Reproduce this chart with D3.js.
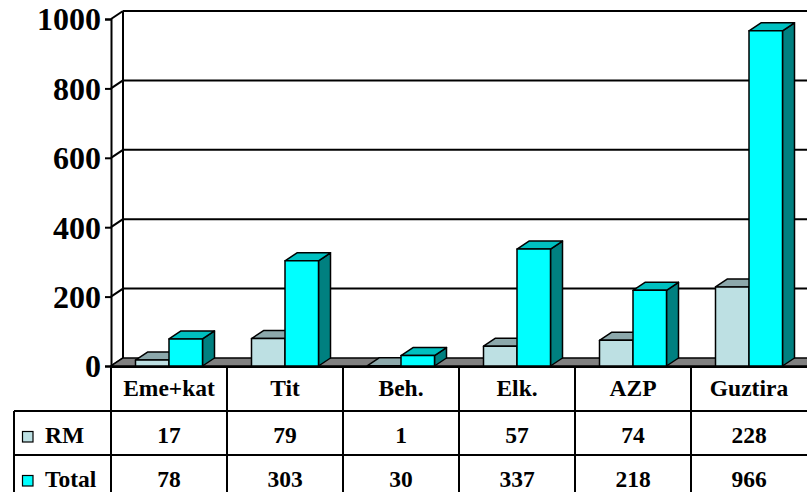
<!DOCTYPE html>
<html>
<head>
<meta charset="utf-8">
<script src="https://cdn.jsdelivr.net/npm/d3@7"></script>
<style>
  body { margin: 0; background: #fff; }
  svg { display: block; }
  svg text { font-family: "Liberation Serif", "Times New Roman", serif; font-weight: bold; }
</style>
</head>
<body>
<svg id="chart" width="807" height="492"></svg>
<script>
// data
const categories = ["Eme+kat", "Tit", "Beh.", "Elk.", "AZP", "Guztira"];
const rmValues = [17, 79, 1, 57, 74, 228];
const totalValues = [78, 303, 30, 337, 218, 966];
const yTicks = [0, 200, 400, 600, 800, 1000];

const WIDTH = 807;
const HEIGHT = 492;
const LEFT = 111;
const RIGHT = 807;
const FLOOR = 366;
const TOP = 19;
const DX = 12, DY = -8;
const SERIF = "Liberation Serif, Times New Roman, serif";

const series = [
  {name: "RM", values: rmValues, front: "#bde0e3", top: "#8ca8ab", side: "#6f8f92"},
  {name: "Total", values: totalValues, front: "#00ffff", top: "#00c0c0", side: "#008080"}
];

const svg = d3.select("#chart");

const x = d3.scaleBand(categories, [LEFT, RIGHT]).paddingInner(0).paddingOuter(0);
const y = d3.scaleLinear([0, 1000], [FLOOR, TOP]);
const BAR_W = 33.5;
const xSub = d3.scaleBand(series.map(s => s.name), [0, BAR_W * 2]);

// back wall gridlines
svg.append("g")
  .selectAll("line")
  .data(yTicks.filter(d => d > 0))
  .join("line")
  .attr("x1", LEFT + DX).attr("x2", RIGHT + 50)
  .attr("y1", d => y(d) + DY).attr("y2", d => y(d) + DY)
  .attr("stroke", "#000").attr("stroke-width", 2);

// left wall
const wall = svg.append("g").attr("fill", "none").attr("stroke", "#000").attr("stroke-width", 2);
wall.append("line")
  .attr("x1", LEFT + DX).attr("x2", LEFT + DX)
  .attr("y1", y(1000) + DY).attr("y2", y(0) + DY);
wall.selectAll(".diag")
  .data(yTicks)
  .join("line")
  .attr("x1", LEFT).attr("y1", d => y(d))
  .attr("x2", LEFT + DX).attr("y2", d => y(d) + DY);

// floor
svg.append("path")
  .attr("d", `M${LEFT},${FLOOR} L${LEFT + DX},${FLOOR + DY} L${RIGHT + 50},${FLOOR + DY} L${RIGHT + 50},${FLOOR} Z`)
  .attr("fill", "#808080").attr("stroke", "#000").attr("stroke-width", 1.5);

// bars
const bars = svg.append("g").attr("stroke", "#000").attr("stroke-width", 1.5).attr("stroke-linejoin", "round");
categories.forEach((c, i) => {
  const cx = x(c) + x.bandwidth() / 2 - BAR_W;
  series.forEach(s => {
    const x0 = cx + xSub(s.name), x1 = x0 + xSub.bandwidth();
    const yt = y(s.values[i]), yb = y(0);
    const g = bars.append("g");
    g.append("path")
      .attr("d", `M${x1},${yb} L${x1 + DX},${yb + DY} L${x1 + DX},${yt + DY} L${x1},${yt} Z`)
      .attr("fill", s.side);
    g.append("path")
      .attr("d", `M${x0},${yt} L${x0 + DX},${yt + DY} L${x1 + DX},${yt + DY} L${x1},${yt} Z`)
      .attr("fill", s.top);
    g.append("rect")
      .attr("x", x0).attr("y", yt)
      .attr("width", x1 - x0).attr("height", yb - yt)
      .attr("fill", s.front);
  });
});

// y axis
const yAxis = svg.append("g")
  .attr("transform", `translate(${LEFT},0)`)
  .call(d3.axisLeft(y).tickValues(yTicks).tickSize(6).tickPadding(4).tickFormat(d3.format("d")));
yAxis.select(".domain").attr("stroke-width", 2);
yAxis.selectAll(".tick line").attr("stroke-width", 2);
yAxis.selectAll(".tick text")
  .attr("font-family", SERIF)
  .attr("font-weight", "bold")
  .attr("font-size", 32)
  .attr("dy", "0.34em")
  .attr("fill", "#000");

// data table
const ROW1 = 367, ROW2 = 411, ROW3 = 455, ROWEND = 520;
const LEG_LEFT = 14;
const table = svg.append("g").attr("stroke", "#000").attr("stroke-width", 2);
table.append("line").attr("x1", LEFT).attr("x2", RIGHT + 50).attr("y1", ROW1).attr("y2", ROW1);
table.selectAll(".h")
  .data([ROW2, ROW3])
  .join("line")
  .attr("x1", LEG_LEFT).attr("x2", RIGHT + 50)
  .attr("y1", d => d).attr("y2", d => d);
table.append("line").attr("x1", LEG_LEFT).attr("x2", LEG_LEFT).attr("y1", ROW2).attr("y2", ROWEND);
table.selectAll(".v")
  .data(categories)
  .join("line")
  .attr("x1", d => x(d)).attr("x2", d => x(d))
  .attr("y1", ROW1).attr("y2", ROWEND);

const txt = svg.append("g")
  .attr("font-family", SERIF).attr("font-weight", "bold")
  .attr("font-size", 23.5).attr("text-anchor", "middle").attr("fill", "#000");
txt.selectAll(".cat")
  .data(categories)
  .join("text")
  .attr("x", d => x(d) + x.bandwidth() / 2)
  .attr("y", 396)
  .text(d => d);

const rowBase = [443, 487];
series.forEach((s, r) => {
  txt.selectAll(".v" + r)
    .data(s.values)
    .join("text")
    .attr("x", (d, i) => x(categories[i]) + x.bandwidth() / 2)
    .attr("y", rowBase[r])
    .text(d => d);
  svg.append("rect")
    .attr("x", 22.5).attr("y", rowBase[r] - 11.5)
    .attr("width", 10.5).attr("height", 10.5)
    .attr("fill", s.front).attr("stroke", "#000").attr("stroke-width", 1.2);
  svg.append("text")
    .attr("x", 45).attr("y", rowBase[r])
    .attr("font-family", SERIF).attr("font-weight", "bold")
    .attr("font-size", 23.5)
    .text(s.name);
});
</script>
</body>
</html>
